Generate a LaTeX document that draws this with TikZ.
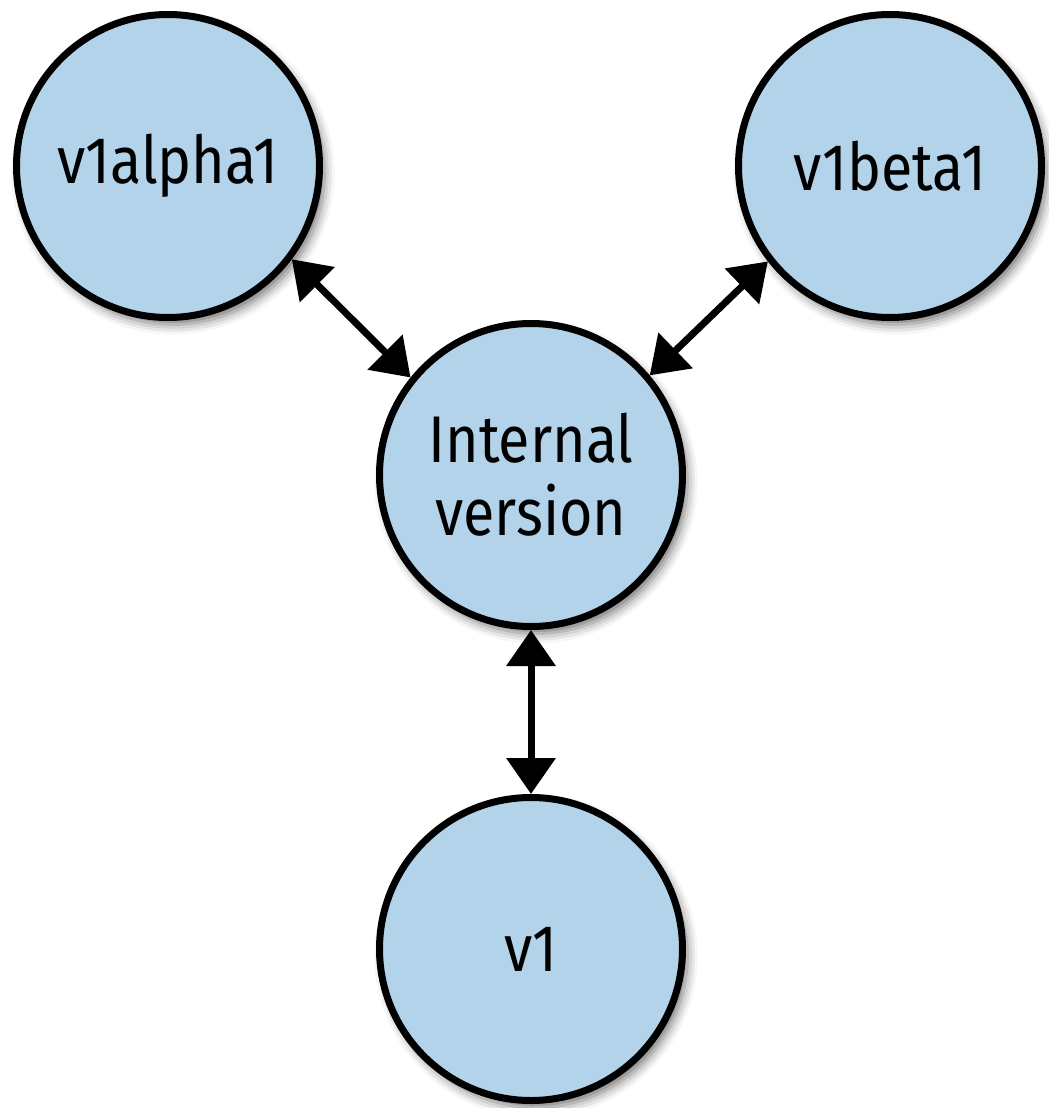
\documentclass[tikz,border=0pt]{standalone}
\usepackage{fontspec}
\setmainfont{Fira Sans}[FakeStretch=0.87]
\usetikzlibrary{arrows.meta,shadows.blur}
\definecolor{nodeblue}{HTML}{B3D3EA}
\tikzset{
  vnode/.style={circle, draw=black, line width=7pt, fill=nodeblue,
    minimum size=303pt, inner sep=0pt, align=center,
    font=\fontsize{66pt}{73pt}\selectfont,
    blur shadow={shadow xshift=5pt, shadow yshift=-7pt, shadow blur radius=10pt, shadow opacity=55}},
  link/.style={line width=7pt, {Triangle[length=36pt,width=48pt]}-{Triangle[length=36pt,width=48pt]}}
}
\begin{document}
\begin{tikzpicture}[x=1pt,y=-1pt]
\useasboundingbox (0,0) rectangle (1049,1108);
\node[vnode] (alpha) at (168,166) {v1alpha1};
\node[vnode] (beta) at (890,166) {v1beta1};
\node[vnode] (int) at (531,475) {Internal\\version};
\node[vnode] (v1) at (531,949) {v1};
\draw[link] (alpha.-37) -- (int.141);
\draw[link] (beta.-142) -- (int.40);
\draw[link] (int.south) -- (v1.north);
\end{tikzpicture}
\end{document}
